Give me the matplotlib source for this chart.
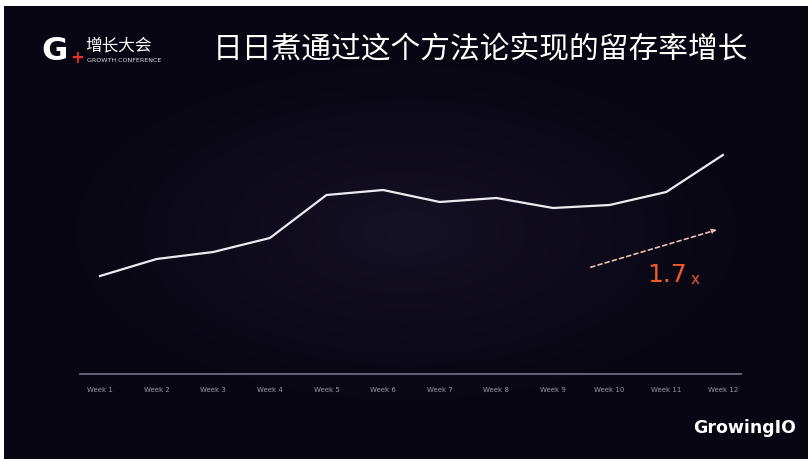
import numpy as np
import matplotlib.pyplot as plt

plt.rcParams['font.family'] = ['Noto Sans CJK SC', 'DejaVu Sans']

weeks = ['Week 1', 'Week 2', 'Week 3', 'Week 4', 'Week 5', 'Week 6',
         'Week 7', 'Week 8', 'Week 9', 'Week 10', 'Week 11', 'Week 12']
retention = [9.8, 11.5, 12.2, 13.6, 17.9, 18.4, 17.2, 17.6, 16.6, 16.9, 18.2, 21.9]
growth_label = '1.7'
title = '日日煮通过这个方法论实现的留存率增长'

W, H = 812, 460
fig = plt.figure(figsize=(W / 100, H / 100), dpi=100, facecolor='white')

# dark slide background with a soft glow in the middle
bg = fig.add_axes([4 / W, 0, 804 / W, 453 / H])
bg.set_axis_off()
yy, xx = np.mgrid[-1:1:200j, -1:1:350j]
r = np.sqrt((xx / 1.0) ** 2 + (yy / 0.9) ** 2)
glow = np.clip(1 - r, 0, 1) ** 1.5
edge = np.array([0.035, 0.024, 0.075])
mid = np.array([0.085, 0.07, 0.15])
img = edge + glow[..., None] * (mid - edge)
bg.imshow(img, aspect='auto', extent=[0, 1, 0, 1])
bg.set_xlim(0, 1)
bg.set_ylim(0, 1)

# header: logo and title
fig.text(41 / W, 1 - 51 / H, 'G', color='white', fontsize=23, fontweight='bold',
         family='DejaVu Sans', va='center', ha='left')
fig.text(70 / W, 1 - 58 / H, '+', color='#e2312b', fontsize=12, fontweight='bold',
         family='DejaVu Sans', va='center', ha='left')
fig.text(85 / W, 1 - 46 / H, '增长大会', color='white', fontsize=12,
         va='center', ha='left')
fig.text(87 / W, 1 - 61 / H, 'GROWTH CONFERENCE', color='#d8d6de', fontsize=4.6,
         family='DejaVu Sans', va='center', ha='left')
fig.text(213 / W, 1 - 50 / H, title, color='white', fontsize=21.4,
         va='center', ha='left')

# chart
ax = fig.add_axes([80 / W, (H - 375) / H, 661 / W, 250 / H])
ax.set_facecolor('none')
x = np.arange(1, len(weeks) + 1)
ax.plot(x, retention, color='#ecebf2', lw=1.6, solid_joinstyle='round')
ax.set_xlim(0.647, 12.32)
ax.set_ylim(0, 25)
for s in ['top', 'right', 'left']:
    ax.spines[s].set_visible(False)
ax.spines['bottom'].set_color('#77738a')
ax.spines['bottom'].set_linewidth(1.2)
ax.set_yticks([])
ax.set_xticks(x)
ax.set_xticklabels(weeks, fontsize=5, color='#9b97a8', family='DejaVu Sans')
ax.tick_params(axis='x', length=0, pad=9)

# growth arrow and multiplier
ax.annotate('', xy=(11.94, 14.5), xytext=(9.62, 10.6),
            arrowprops=dict(arrowstyle='-|>', color='#e9c0b4', lw=1.2,
                            linestyle=(0, (2.5, 2)), mutation_scale=6))
ax.text(10.66, 10.0, growth_label, color='#ee5a2a', fontsize=18,
        family='DejaVu Sans', va='center', ha='left')
ax.text(11.43, 9.5, 'x', color='#ee5a2a', fontsize=11,
        family='DejaVu Sans', va='center', ha='left')

fig.text(745 / W, 1 - 428 / H, 'GrowingIO', color='white', fontsize=12.5,
         fontweight='bold', family='DejaVu Sans', va='center', ha='center')

fig.savefig('out.png', dpi=100, facecolor='white')
